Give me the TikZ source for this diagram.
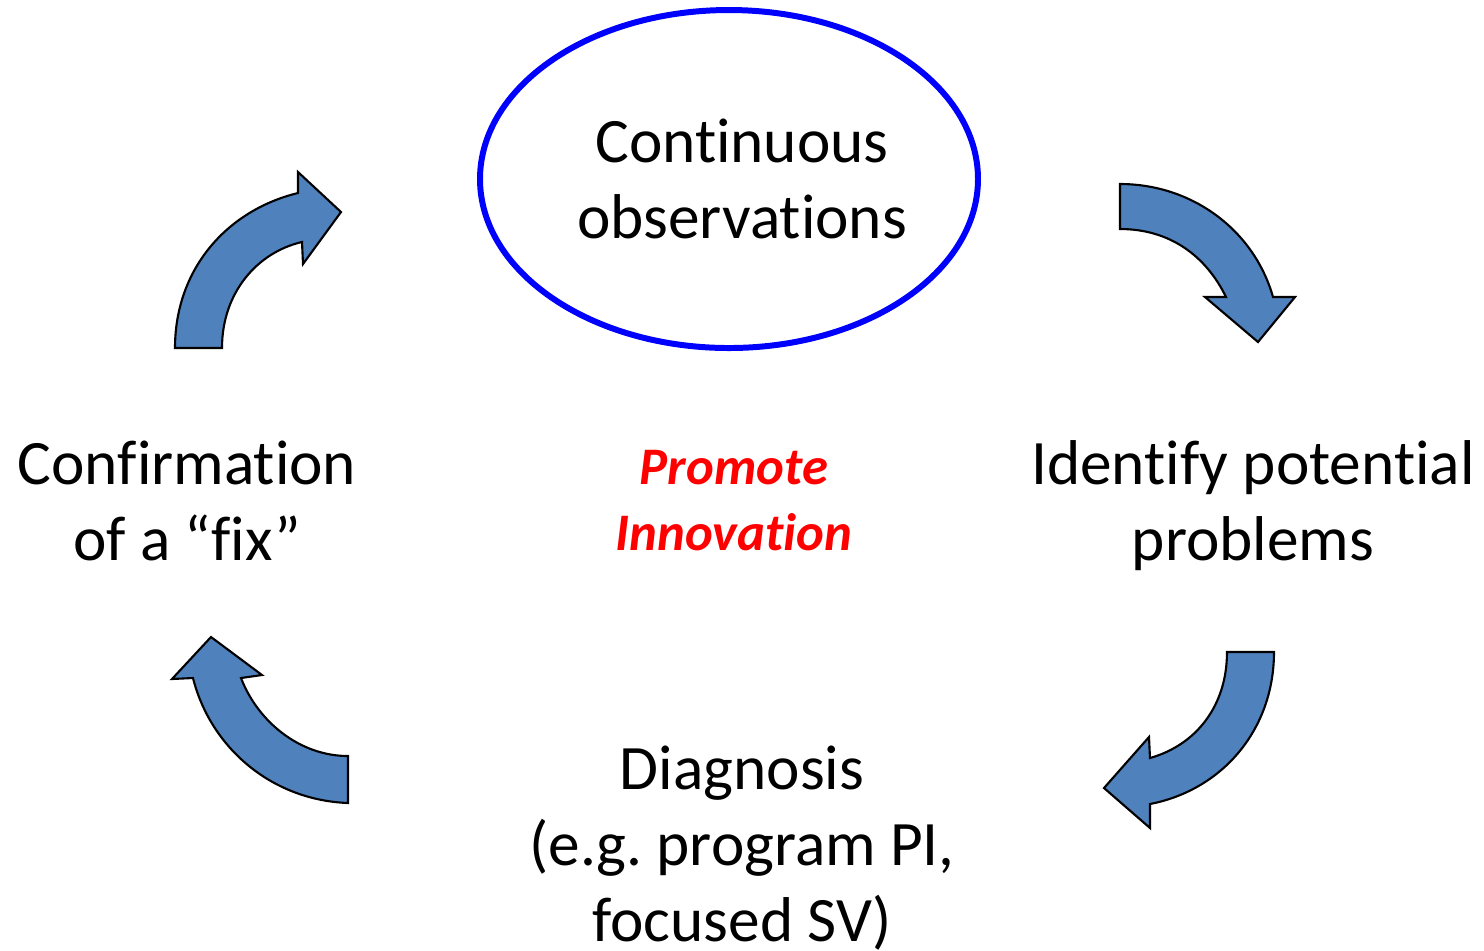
\documentclass[tikz,border=0pt]{standalone}
\usepackage{fontspec}
\setmainfont[Ligatures={TeX,NoCommon}]{Carlito}
\usetikzlibrary{positioning,shapes}

\definecolor{arrowblue}{RGB}{79,129,189}
\definecolor{ringblue}{RGB}{0,0,255}

\begin{document}
\frenchspacing
\begin{tikzpicture}[x=0.01cm,y=-0.01cm,
	label/.style={align=center,anchor=base,inner sep=0pt,font=\fontsize{18}{21.5}\selectfont},
	bent/.style={fill=arrowblue,draw=black,line width=0.6pt,line join=miter}]
\useasboundingbox (0,0) rectangle (1484,950);
\draw [ringblue,line width=1.7pt] (729,179) ellipse [x radius=249,y radius=169];
\node [label] (obs) at (742,238) {Continuous\\observations};
\node [label] (ident) at (1253,560) {Identify potential\\problems};
\node [label] (diag) at (742,941) {Diagnosis\\(e.g. program PI,\\focused SV)};
\node [label] (conf) at (187,560) {Confirmation\\of a ``fix''};
\node [label,font=\fontsize{15}{18.5}\selectfont\bfseries\itshape,text=red] (promo) at (734,550) {Promote\\Innovation};
% block arrows round the cycle
\path [bent] (175,348) .. controls (175,268) and (228,210) .. (298,193) -- (298,172) -- (341,212)
	-- (303,264) -- (302,242) .. controls (258,252) and (222,292) .. (222,348) -- cycle;
\path [bent] (1120,184) .. controls (1192,184) and (1254,230) .. (1273,297) -- (1295,297) -- (1258,342)
	-- (1205,297) -- (1226,297) .. controls (1206,256) and (1170,229) .. (1120,229) -- cycle;
\path [bent] (1274,652) .. controls (1274,730) and (1222,790) .. (1150,804) -- (1150,828) -- (1104,788)
	-- (1149,737) -- (1150,758) .. controls (1196,745) and (1227,706) .. (1227,652) -- cycle;
\path [bent] (348,803) .. controls (270,800) and (210,746) .. (193,678) -- (172,679) -- (211,637)
	-- (262,675) -- (241,678) .. controls (258,722) and (300,756) .. (348,756) -- cycle;
\end{tikzpicture}
\end{document}
